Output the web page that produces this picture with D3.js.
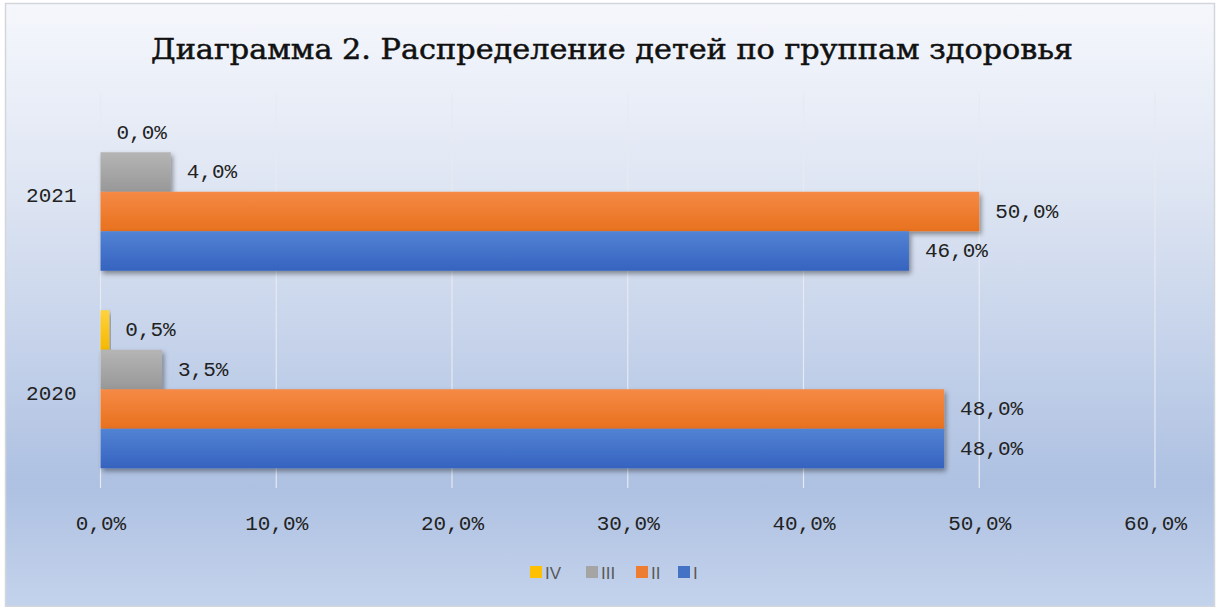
<!DOCTYPE html>
<html><head><meta charset="utf-8">
<script src="https://cdn.jsdelivr.net/npm/d3@7"></script>
<style>html,body{margin:0;padding:0;background:#fff;}svg{display:block;}</style>
</head><body>
<script>
const categories = ["2021", "2020"];
const seriesNames = ["IV", "III", "II", "I"];
const valuesIV  = [0.0, 0.5];
const valuesIII = [4.0, 3.5];
const valuesII  = [50.0, 48.0];
const valuesI   = [46.0, 48.0];
const tickValues = [0, 10, 20, 30, 40, 50, 60];
const title = "Диаграмма 2. Распределение детей  по группам здоровья";

const seriesValues = [valuesIV, valuesIII, valuesII, valuesI];
const colors = {IV:["#ffd23f","#f5b800"], III:["#b5b5b5","#989898"], II:["#f58a45","#e8711e"], I:["#5283d4","#3563bf"]};
const legendColors = {IV:"#ffc000", III:"#a5a5a5", II:"#ed7d31", I:"#4472c4"};

const W = 1217, H = 607;
const monoFont = "'Liberation Mono','DejaVu Sans Mono',monospace";
const svg = d3.select("body").append("svg").attr("width", W).attr("height", H);
const defs = svg.append("defs");
const bg = defs.append("linearGradient").attr("id","bg").attr("x1",0).attr("y1",0).attr("x2",0).attr("y2",1);
bg.append("stop").attr("offset","0%").attr("stop-color","#f5f7fc");
bg.append("stop").attr("offset","30%").attr("stop-color","#dfe6f3");
bg.append("stop").attr("offset","80%").attr("stop-color","#aec1e2");
bg.append("stop").attr("offset","100%").attr("stop-color","#c4d3ec");
seriesNames.forEach(s => {
  const g = defs.append("linearGradient").attr("id","g"+s).attr("x1",0).attr("y1",0).attr("x2",0).attr("y2",1);
  g.append("stop").attr("offset","0%").attr("stop-color",colors[s][0]);
  g.append("stop").attr("offset","100%").attr("stop-color",colors[s][1]);
});
const f = defs.append("filter").attr("id","sh").attr("x","-5%").attr("y","-20%").attr("width","115%").attr("height","160%");
f.append("feDropShadow").attr("dx",2).attr("dy",3).attr("stdDeviation",2.5).attr("flood-color","#000").attr("flood-opacity",0.4);

svg.append("rect").attr("x",0).attr("y",0).attr("width",W).attr("height",H).attr("fill","#fff");
svg.append("rect").attr("x",5.5).attr("y",3.5).attr("width",1209).attr("height",603).attr("fill","url(#bg)").attr("stroke","#d4d6da").attr("stroke-width",1.5);

svg.append("text").attr("x",612).attr("y",59).attr("text-anchor","middle")
  .attr("font-family","'DejaVu Serif','Liberation Serif',serif").attr("font-size",27)
  .attr("stroke","#111").attr("stroke-width",0.5)
  .attr("textLength",922).attr("lengthAdjust","spacingAndGlyphs")
  .attr("fill","#111").text(title);

const pLeft = 100.5, pRight = 1155, pTop = 93, pBottom = 488;
const x = d3.scaleLinear().domain([0,60]).range([pLeft,pRight]);
const y0 = d3.scaleBand().domain(categories).range([pTop,pBottom]).paddingInner(0.2).paddingOuter(0.1);
const y1 = d3.scaleBand().domain(seriesNames).range([0,y0.bandwidth()]);

// gridlines
svg.append("g").selectAll("line").data(tickValues).join("line")
  .attr("x1",d=>x(d)).attr("x2",d=>x(d)).attr("y1",pTop).attr("y2",pBottom)
  .attr("stroke","#e6eaf2").attr("stroke-width",1.2);

const fmt = d => d.toFixed(1).replace(".", ",") + "%";

// x axis labels
const xAxis = d3.axisBottom(x).tickValues(tickValues).tickSize(0).tickFormat(fmt);
const gx = svg.append("g").attr("transform",`translate(0,${pBottom+24})`).call(xAxis);
gx.select(".domain").remove();
gx.selectAll("text").attr("font-family",monoFont).attr("font-size",21).attr("fill","#222");

// y axis labels
const yAxis = d3.axisLeft(y0).tickSize(0).tickPadding(0);
const gy = svg.append("g").attr("transform",`translate(${pLeft-24},0)`).call(yAxis);
gy.select(".domain").remove();
gy.selectAll("text").attr("font-family",monoFont).attr("font-size",21).attr("fill","#222").attr("dy","0.5em");

// bars
const data = [];
categories.forEach((c,ci) => seriesNames.forEach((s,si) => data.push({c, s, v: seriesValues[si][ci]})));
svg.append("g").selectAll("rect").data(data).join("rect")
  .attr("x",x(0)).attr("y",d=>y0(d.c)+y1(d.s)).attr("width",d=>x(d.v)-x(0)).attr("height",y1.bandwidth())
  .attr("fill",d=>"url(#g"+d.s+")").attr("filter",d=>d.v>0?"url(#sh)":null);

// labels
svg.append("g").selectAll("text").data(data).join("text")
  .attr("x",d=>x(d.v)+16).attr("y",d=>y0(d.c)+y1(d.s)+y1.bandwidth()/2).attr("dy","0.3em")
  .attr("font-family",monoFont).attr("font-size",21).attr("fill","#222")
  .text(d=>fmt(d.v));

// legend
const legendX = [530, 586, 636, 678];
const lg = svg.append("g");
seriesNames.forEach((s,i) => {
  lg.append("rect").attr("x",legendX[i]).attr("y",566).attr("width",12).attr("height",12).attr("fill",legendColors[s]);
  lg.append("text").attr("x",legendX[i]+15).attr("y",579).attr("font-family","'Liberation Sans',Arial,sans-serif")
    .attr("font-size",17).attr("fill","#595959").text(s);
});
</script>
</body></html>
